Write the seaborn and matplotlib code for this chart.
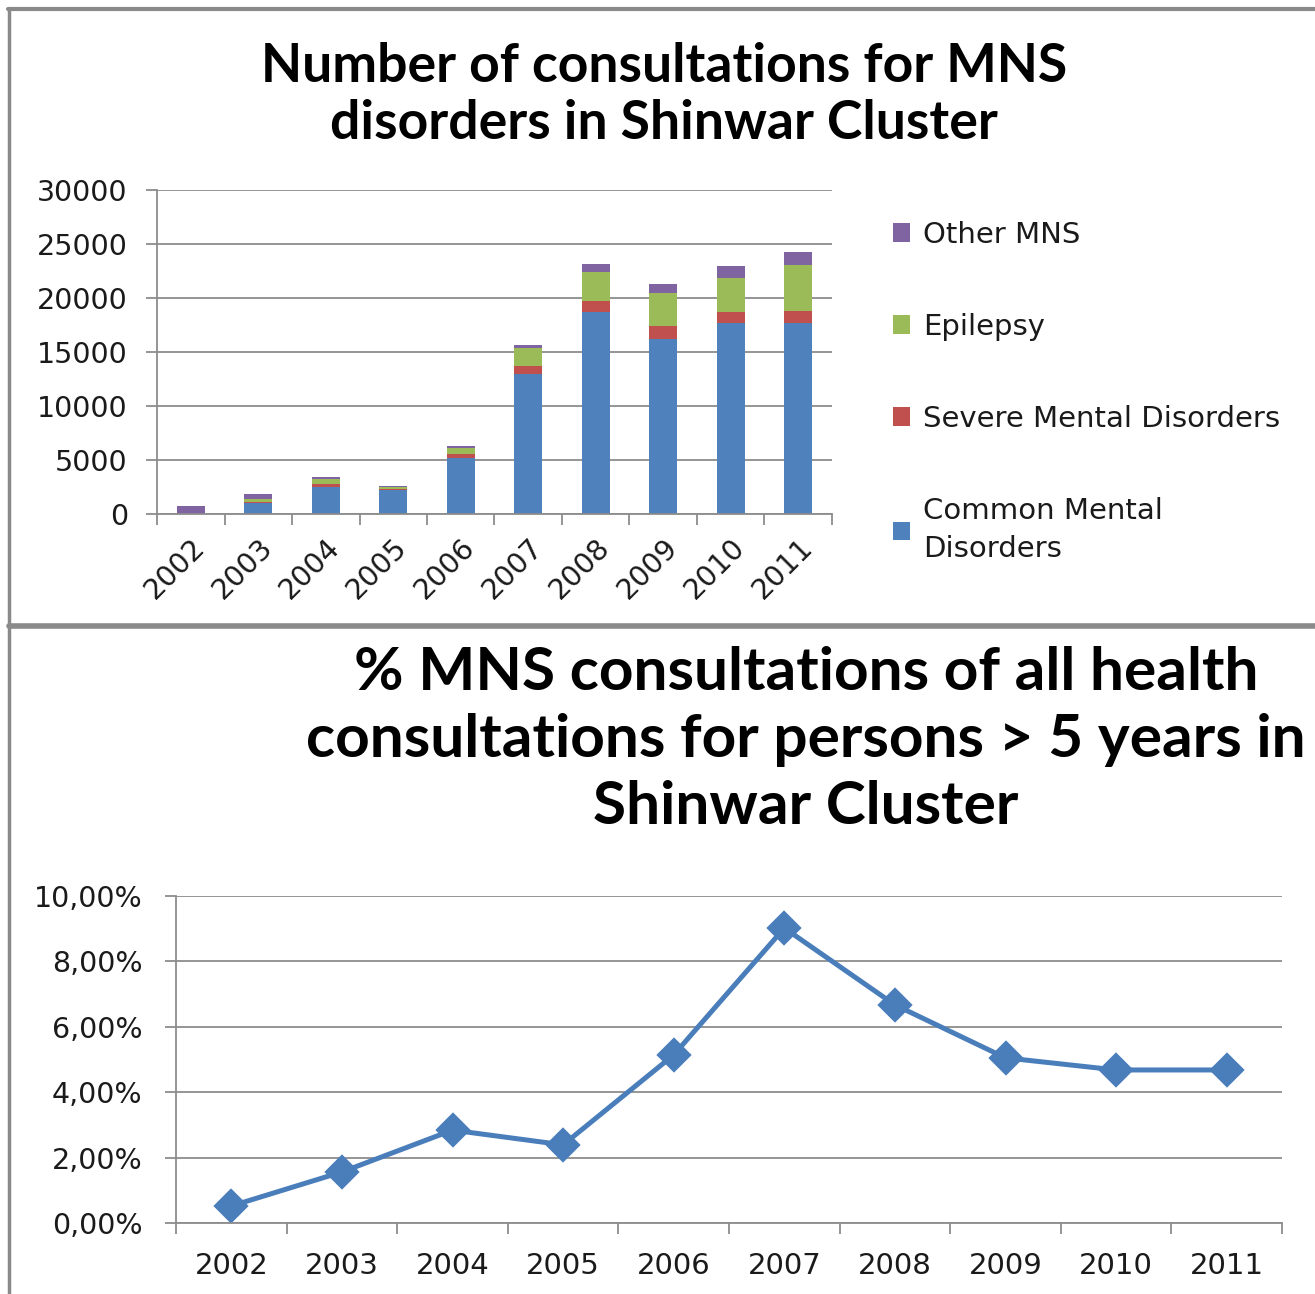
import matplotlib
matplotlib.use("Agg")
import matplotlib.pyplot as plt
from matplotlib.lines import Line2D
from matplotlib.patches import Patch
from matplotlib.ticker import FuncFormatter
import numpy as np
import pandas as pd
import seaborn as sns

# ─── Data ────────────────────────────────────────────────────────────────────
years = ["2002", "2003", "2004", "2005", "2006", "2007", "2008", "2009", "2010", "2011"]

common_mental = [0, 1030, 2480, 2210, 5180, 12930, 18670, 16170, 17720, 17720]
severe_mental = [0, 90, 330, 150, 420, 770, 1050, 1235, 955, 1110]
epilepsy = [0, 300, 450, 150, 545, 1700, 2650, 3020, 3150, 4260]
other_mns = [700, 390, 180, 120, 120, 216, 740, 895, 1110, 1200]

series_names = ["Common Mental\nDisorders", "Severe Mental Disorders", "Epilepsy", "Other MNS"]
series_colors = ["#4F81BD", "#C0504D", "#9BBB59", "#8064A2"]

pct_mns = [0.0052, 0.0156, 0.0284, 0.0239, 0.0514, 0.0902, 0.0667, 0.0505, 0.0468, 0.0468]

title_top = "Number of consultations for MNS\ndisorders in Shinwar Cluster"
title_bottom = "% MNS consultations of all health\nconsultations for persons > 5 years in\nShinwar Cluster"

# ─── Style ───────────────────────────────────────────────────────────────────
sns.set_theme(style="white")
plt.rcParams["font.family"] = ["DejaVu Sans"]
GRID = "#8c8c8c"
TEXT = "#1a1a1a"

W, H = 1315, 1294
fig = plt.figure(figsize=(W / 100, H / 100), dpi=100)


def px_axes(left, top, right, bottom):
    return fig.add_axes([left / W, 1 - bottom / H, (right - left) / W, (bottom - top) / H])


def style_axes(ax, n):
    for s in ["top", "right"]:
        ax.spines[s].set_visible(False)
    for s in ["left", "bottom"]:
        ax.spines[s].set_color(GRID)
        ax.spines[s].set_linewidth(1.3)
    ax.yaxis.grid(True, color=GRID, linewidth=1.3)
    ax.set_axisbelow(True)
    ax.set_xlim(-0.5, n - 0.5)
    ax.set_xticks(np.arange(-0.5, n, 1.0), minor=True)
    ax.tick_params(axis="x", which="minor", length=8, width=1.3, color=GRID, direction="out", bottom=True)
    ax.tick_params(axis="y", which="major", length=8, width=1.3, color=GRID, direction="out", left=True)
    ax.set_xlabel("")
    ax.set_ylabel("")


# ─── Panel 1: stacked bars ───────────────────────────────────────────────────
ax1 = px_axes(157, 190, 832, 514)
layers = np.cumsum(np.array([common_mental, severe_mental, epilepsy, other_mns]), axis=0)
for i in range(len(series_names) - 1, -1, -1):
    df = pd.DataFrame({"year": years, "value": layers[i]})
    sns.barplot(data=df, x="year", y="value", color=series_colors[i], saturation=1,
                width=0.41, ax=ax1, linewidth=0)
style_axes(ax1, len(years))
ax1.set_ylim(0, 30000)
ax1.set_yticks(np.arange(0, 30001, 5000))
ax1.tick_params(axis="y", labelsize=20.5, pad=13, labelcolor=TEXT)
ax1.tick_params(axis="x", which="major", length=0, labelsize=20.5, pad=14, labelcolor=TEXT)
for lbl in ax1.get_xticklabels():
    lbl.set_rotation(45)
    lbl.set_ha("right")
    lbl.set_rotation_mode("anchor")

handles = [Patch(facecolor=c, edgecolor="none") for c in series_colors][::-1]
leg = ax1.legend(handles, series_names[::-1], loc="upper left", bbox_to_anchor=(881 / W, 1 - 209 / H),
                 bbox_transform=fig.transFigure, frameon=False, fontsize=21, labelspacing=2.2,
                 handlelength=0.6, handleheight=0.6, handletextpad=0.45, borderaxespad=0,
                 labelcolor=TEXT)
for t in leg.get_texts():
    t.set_linespacing(1.45)

fig.text(664 / W, 1 - 95 / H, title_top, ha="center", va="center", family="Lato",
         fontweight="bold", fontsize=38.5, linespacing=1.2, color="black")

# ─── Panel 2: percentage line ────────────────────────────────────────────────
ax2 = px_axes(176, 896, 1282, 1223)
df2 = pd.DataFrame({"year": years, "pct": pct_mns})
sns.pointplot(data=df2, x="year", y="pct", color="#4A7EBB", markers="D", linestyles="-",
              errorbar=None, ax=ax2, markersize=15, linewidth=3.6)
style_axes(ax2, len(years))
ax2.set_xlim(-0.5, len(years) - 0.5)
ax2.set_ylim(0, 0.10)
ax2.set_yticks(np.arange(0, 0.1001, 0.02))
ax2.yaxis.set_major_formatter(FuncFormatter(lambda v, _: f"{v * 100:.2f}%".replace(".", ",")))
ax2.tick_params(axis="y", labelsize=20.5, pad=16, labelcolor=TEXT)
ax2.tick_params(axis="x", which="major", length=0, labelsize=21, pad=21, labelcolor=TEXT)

fig.text(806 / W, 1 - 740 / H, title_bottom, ha="center", va="center", family="Lato",
         fontweight="bold", fontsize=43.5, linespacing=1.29, color="black")

# ─── Frame lines ─────────────────────────────────────────────────────────────
frame = "#8a8a8a"
fig.add_artist(Line2D([8 / W, 1], [1 - 9 / H, 1 - 9 / H], color=frame, linewidth=3, transform=fig.transFigure))
fig.add_artist(Line2D([9 / W, 9 / W], [0, 1 - 9 / H], color=frame, linewidth=2.5, transform=fig.transFigure))
fig.add_artist(Line2D([9 / W, 1], [1 - 626 / H, 1 - 626 / H], color=frame, linewidth=4, transform=fig.transFigure))

fig.savefig("out.png", dpi=100)
